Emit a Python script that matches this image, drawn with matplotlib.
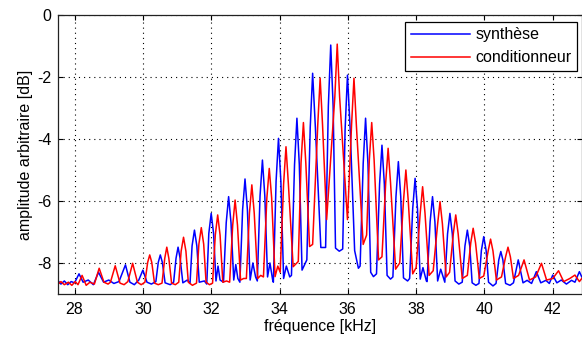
import matplotlib
matplotlib.use("Agg")
import matplotlib.pyplot as plt

# ---- data: (frequency kHz, amplitude dB) vertices ----
synth_points = [
    (27.50, -8.55), (27.60, -8.68), (27.70, -8.58), (27.80, -8.70), (27.90, -8.60),
    (28.00, -8.64), (28.13, -8.35), (28.25, -8.62), (28.40, -8.55), (28.55, -8.70),
    (28.70, -8.30), (28.85, -8.62), (29.00, -8.55), (29.15, -8.66), (29.30, -8.60),
    (29.49, -8.06), (29.62, -8.62), (29.75, -8.70), (29.88, -8.55), (30.00, -8.23),
    (30.12, -8.62), (30.25, -8.68), (30.38, -8.60),
    (30.45, -7.98), (30.51, -7.74), (30.57, -7.98), (30.65, -8.64), (30.80, -8.70),
    (30.90, -8.62), (30.97, -7.85), (31.03, -7.49), (31.09, -7.85), (31.17, -8.64),
    (31.30, -8.55), (31.38, -8.66), (31.44, -7.45), (31.51, -6.94), (31.58, -7.45),
    (31.65, -8.62), (31.80, -8.58), (31.87, -8.68), (31.93, -7.05), (32.00, -6.40),
    (32.07, -7.05), (32.14, -8.58), (32.20, -8.10), (32.26, -8.55), (32.36, -8.62),
    (32.44, -6.70), (32.51, -5.86), (32.58, -6.70), (32.66, -8.55), (32.72, -8.05),
    (32.78, -8.50), (32.84, -8.62), (32.92, -6.28), (32.99, -5.29), (33.06, -6.28),
    (33.14, -8.55), (33.22, -8.00), (33.30, -8.45), (33.35, -8.58), (33.43, -5.84),
    (33.50, -4.68), (33.57, -5.84), (33.65, -8.45), (33.72, -8.00), (33.80, -8.55),
    (33.82, -8.62), (33.90, -5.36), (33.97, -3.98), (34.04, -5.36), (34.12, -8.50),
    (34.20, -8.10), (34.30, -8.45), (34.35, -8.40), (34.44, -4.83), (34.51, -3.33),
    (34.58, -4.83), (34.66, -8.23), (34.80, -7.90), (34.90, -3.62), (34.97, -1.88),
    (35.05, -3.62), (35.21, -7.50), (35.35, -7.50), (35.43, -2.94), (35.50, -0.97),
    (35.57, -2.94), (35.64, -7.52), (35.75, -7.62), (35.85, -7.55), (35.92, -3.71),
    (35.99, -1.94), (36.07, -3.71), (36.20, -7.60), (36.31, -8.17), (36.36, -8.10),
    (36.45, -4.80), (36.52, -3.33), (36.59, -4.80), (36.67, -8.30), (36.75, -8.44),
    (36.84, -8.35), (36.93, -5.46), (37.00, -4.20), (37.07, -5.46), (37.15, -8.40),
    (37.25, -8.52), (37.32, -8.45), (37.41, -5.86), (37.48, -4.73), (37.55, -5.86),
    (37.63, -8.48), (37.75, -8.58), (37.81, -8.50), (37.90, -6.25), (37.97, -5.27),
    (38.04, -6.25), (38.12, -8.52), (38.20, -8.15), (38.30, -8.58), (38.32, -8.60),
    (38.41, -6.67), (38.48, -5.86), (38.55, -6.67), (38.63, -8.58), (38.72, -8.20),
    (38.84, -8.62), (38.92, -7.06), (38.99, -6.40), (39.06, -7.06), (39.14, -8.58),
    (39.25, -8.68), (39.35, -8.62), (39.43, -7.45), (39.50, -6.94), (39.57, -7.45),
    (39.64, -8.64), (39.75, -8.72), (39.84, -8.66), (39.91, -7.60), (39.98, -7.15),
    (40.05, -7.60), (40.12, -8.62), (40.25, -8.74), (40.34, -8.66), (40.42, -7.90),
    (40.48, -7.63), (40.54, -7.90), (40.62, -8.66), (40.75, -8.72), (40.85, -8.64),
    (40.99, -7.90), (41.13, -8.64), (41.25, -8.56), (41.38, -8.66), (41.52, -8.28),
    (41.65, -8.64), (41.80, -8.56), (41.90, -8.66), (42.00, -8.39), (42.12, -8.64),
    (42.25, -8.55), (42.40, -8.68), (42.55, -8.56), (42.65, -8.62), (42.78, -8.28),
    (42.85, -8.45),
]

cond_points = [
    (27.50, -8.70), (27.60, -8.60), (27.70, -8.70), (27.82, -8.62), (27.92, -8.72),
    (28.02, -8.60), (28.10, -8.70), (28.22, -8.40), (28.34, -8.72), (28.45, -8.62),
    (28.58, -8.68), (28.72, -8.17), (28.86, -8.62), (28.98, -8.68), (29.05, -8.62),
    (29.19, -8.09), (29.33, -8.65), (29.45, -8.70), (29.56, -8.60), (29.70, -8.01),
    (29.84, -8.62), (29.95, -8.70), (30.06, -8.62), (30.14, -7.98), (30.20, -7.74),
    (30.26, -7.98), (30.34, -8.65), (30.45, -8.70), (30.56, -8.65), (30.64, -7.85),
    (30.70, -7.49), (30.76, -7.85), (30.84, -8.65), (30.95, -8.70), (31.05, -8.62),
    (31.12, -7.62), (31.19, -7.17), (31.26, -7.62), (31.33, -8.62), (31.45, -8.72),
    (31.57, -8.65), (31.64, -7.39), (31.71, -6.86), (31.78, -7.39), (31.85, -8.62),
    (31.95, -8.70), (32.04, -8.65), (32.12, -7.10), (32.19, -6.45), (32.26, -7.10),
    (32.34, -8.62), (32.45, -8.58), (32.54, -8.62), (32.63, -6.78), (32.70, -5.97),
    (32.77, -6.78), (32.86, -8.55), (32.95, -8.50), (33.03, -8.50), (33.12, -6.39),
    (33.19, -5.48), (33.26, -6.39), (33.36, -8.50), (33.45, -8.40), (33.53, -8.45),
    (33.63, -5.90), (33.70, -4.95), (33.77, -5.90), (33.87, -8.44), (33.95, -8.10),
    (34.02, -8.30), (34.12, -5.45), (34.19, -4.25), (34.26, -5.45), (34.40, -8.12),
    (34.55, -7.95), (34.63, -4.77), (34.70, -3.47), (34.77, -4.77), (34.88, -7.47),
    (34.97, -7.40), (35.12, -3.54), (35.19, -2.04), (35.26, -3.54), (35.38, -6.60),
    (35.62, -2.64), (35.69, -0.94), (35.76, -2.64), (35.99, -6.60), (36.11, -3.54),
    (36.18, -2.04), (36.25, -3.54), (36.45, -7.40), (36.55, -7.10), (36.63, -4.67),
    (36.70, -3.47), (36.77, -4.67), (36.90, -7.90), (37.00, -7.80), (37.11, -5.40),
    (37.18, -4.30), (37.25, -5.40), (37.40, -8.20), (37.52, -8.00), (37.63, -6.00),
    (37.70, -5.00), (37.77, -6.00), (37.90, -8.35), (38.00, -8.15), (38.12, -6.39),
    (38.19, -5.54), (38.26, -6.39), (38.38, -8.40), (38.50, -8.25), (38.63, -6.74),
    (38.70, -6.02), (38.77, -6.74), (38.88, -8.45), (38.98, -8.30), (39.09, -7.05),
    (39.16, -6.45), (39.23, -7.05), (39.35, -8.50), (39.50, -8.40), (39.60, -7.35),
    (39.67, -6.88), (39.74, -7.35), (39.85, -8.50), (39.98, -8.42), (40.11, -7.61),
    (40.18, -7.23), (40.25, -7.61), (40.35, -8.55), (40.50, -8.45), (40.62, -7.80),
    (40.69, -7.49), (40.76, -7.80), (40.85, -8.50), (41.00, -8.40), (41.16, -7.90),
    (41.32, -8.55), (41.50, -8.45), (41.67, -8.01), (41.82, -8.55), (42.00, -8.50),
    (42.17, -8.25), (42.32, -8.60), (42.50, -8.50), (42.65, -8.39), (42.78, -8.60),
    (42.85, -8.50),
]

x_ticks = [28, 30, 32, 34, 36, 38, 40, 42]
y_ticks = [0, -2, -4, -6, -8]
series_labels = ["synthèse", "conditionneur"]
x_label = "fréquence [kHz]"
y_label = "amplitude arbitraire [dB]"

synth_freq = [p[0] for p in synth_points]
synth_db = [p[1] for p in synth_points]
cond_freq = [p[0] for p in cond_points]
cond_db = [p[1] for p in cond_points]

plt.rcParams['font.family'] = ['Liberation Sans', 'DejaVu Sans']
plt.rcParams['axes.unicode_minus'] = False

fig = plt.figure(figsize=(5.82, 3.43), dpi=100)
ax = fig.add_axes([0.0988, 0.1429, 0.9008, 0.8134])

ax.plot(synth_freq, synth_db, color=(0, 0, 1), lw=1.1, label=series_labels[0])
ax.plot(cond_freq, cond_db, color=(1, 0, 0), lw=1.1, label=series_labels[1])

ax.set_xlim(27.5, 42.85)
ax.set_ylim(-9, 0)
ax.set_xticks(x_ticks)
ax.set_yticks(y_ticks)
ax.set_xticklabels([str(t) for t in x_ticks])
ax.set_yticklabels([str(t) for t in y_ticks])

ax.grid(True, color='black', linestyle=(0, (1, 3.6)), linewidth=0.8)
ax.set_axisbelow(True)

ax.tick_params(direction='in', top=True, right=True, length=3.6, width=0.8,
               labelsize=11.5, colors='black')
ax.tick_params(axis='x', pad=5.5)
ax.tick_params(axis='y', pad=4.5)
for s in ax.spines.values():
    s.set_linewidth(0.9)
    s.set_color('#222222')

ax.set_xlabel(x_label, fontsize=11.5, labelpad=2)
ax.set_ylabel(y_label, fontsize=11.5, labelpad=3)

leg = ax.legend(loc='upper right', bbox_to_anchor=(0.991, 0.976), borderaxespad=0,
                fancybox=False, edgecolor='black', framealpha=1, fontsize=11.5,
                handlelength=3.7, handletextpad=0.35, labelspacing=0.5,
                borderpad=0.35)
leg.get_frame().set_linewidth(0.9)

fig.savefig("out.png", dpi=100)
